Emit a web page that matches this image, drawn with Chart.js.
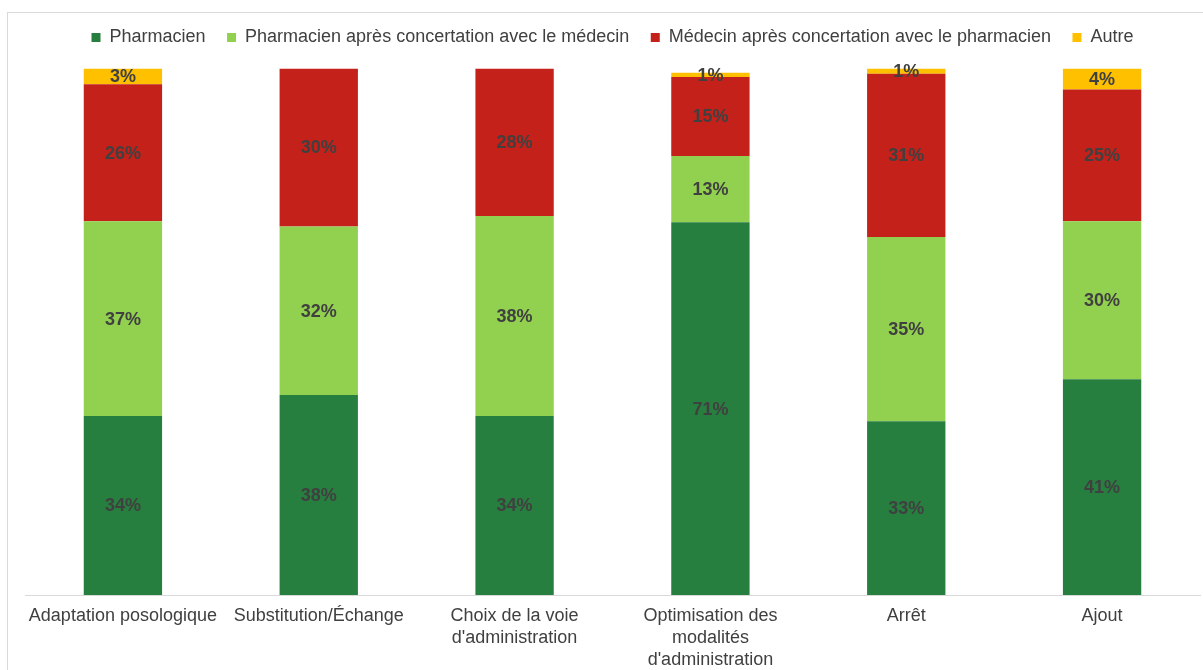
<!DOCTYPE html>
<html>
<head>
<meta charset="utf-8">
<script src="https://cdn.jsdelivr.net/npm/chart.js@4.4.1/dist/chart.umd.min.js"></script>
<style>
  html, body { margin: 0; padding: 0; background: #ffffff; }
  #wrap { width: 1203px; height: 670px; position: relative; }
</style>
</head>
<body>
<div id="wrap"><canvas id="c" width="1203" height="670"></canvas></div>
<script>
const categories = [
  "Adaptation posologique",
  "Substitution/Échange",
  ["Choix de la voie", "d'administration"],
  ["Optimisation des", "modalités", "d'administration"],
  "Arrêt",
  "Ajout"
];
const seriesNames = [
  "Pharmacien",
  "Pharmacien après concertation avec le médecin",
  "Médecin après concertation avec le pharmacien",
  "Autre"
];
const pharmacien      = [34, 38, 34, 70.8, 33, 41];
const pharmacienApres = [37, 32, 38, 12.6, 35, 30];
const medecinApres    = [26, 30, 28, 15.0, 31, 25];
const autre           = [3, 0, 0, 0.8, 1, 4];
const seriesColors = ["#277F3F", "#92D050", "#C4211A", "#FFC000"];

const seriesValues = [pharmacien, pharmacienApres, medecinApres, autre];

const FONT = '"Liberation Sans", Arial, sans-serif';

const frame = {
  id: 'frame',
  beforeDraw(chart) {
    const ctx = chart.ctx;
    ctx.save();
    ctx.fillStyle = '#ffffff';
    ctx.fillRect(0, 0, chart.width, chart.height);
    ctx.strokeStyle = '#d9d9d9';
    ctx.lineWidth = 1;
    ctx.strokeRect(7.5, 12.5, 1210, 700);
    ctx.restore();
  }
};

const valueLabels = {
  id: 'valueLabels',
  afterDatasetsDraw(chart) {
    const ctx = chart.ctx;
    ctx.save();
    ctx.font = 'bold 18px ' + FONT;
    ctx.fillStyle = '#404040';
    ctx.textAlign = 'center';
    ctx.textBaseline = 'middle';
    chart.data.datasets.forEach((ds, di) => {
      const meta = chart.getDatasetMeta(di);
      meta.data.forEach((el, i) => {
        const v = ds.data[i];
        if (!v) return;
        const p = el.getProps(['x', 'y', 'base'], true);
        ctx.fillText(Math.round(v) + '%', p.x, (p.y + p.base) / 2 + 1);
      });
    });
    ctx.restore();
  }
};

const legendGap = {
  id: 'legendGap',
  beforeLayout(chart) {
    const lg = chart.legend;
    if (lg && !lg._gapPatched) {
      const orig = lg.fit.bind(lg);
      lg.fit = function () { orig(); this.height += 12; };
      lg._gapPatched = true;
    }
  }
};

new Chart(document.getElementById('c'), {
  type: 'bar',
  data: {
    labels: categories,
    datasets: seriesNames.map((n, i) => ({
      label: n,
      data: seriesValues[i],
      backgroundColor: seriesColors[i],
      borderWidth: 0,
      categoryPercentage: 1.0,
      barPercentage: 0.4
    }))
  },
  options: {
    responsive: false,
    animation: false,
    devicePixelRatio: 1,
    layout: { padding: { left: 25, right: 3, top: 7, bottom: -11 } },
    plugins: {
      legend: {
        position: 'top',
        labels: {
          boxWidth: 9,
          boxHeight: 9,
          padding: 21.5,
          color: '#404040',
          font: { family: FONT, size: 18 }
        }
      },
      tooltip: { enabled: false }
    },
    scales: {
      x: {
        stacked: true,
        grid: { display: false, drawTicks: false },
        border: { display: true, color: '#d9d9d9', width: 1 },
        ticks: {
          color: '#404040',
          maxRotation: 0,
          autoSkip: false,
          padding: 10,
          font: { family: FONT, size: 18, lineHeight: '22px' }
        }
      },
      y: {
        stacked: true,
        display: false,
        min: 0,
        max: 100
      }
    }
  },
  plugins: [frame, valueLabels, legendGap]
});
</script>
</body>
</html>
